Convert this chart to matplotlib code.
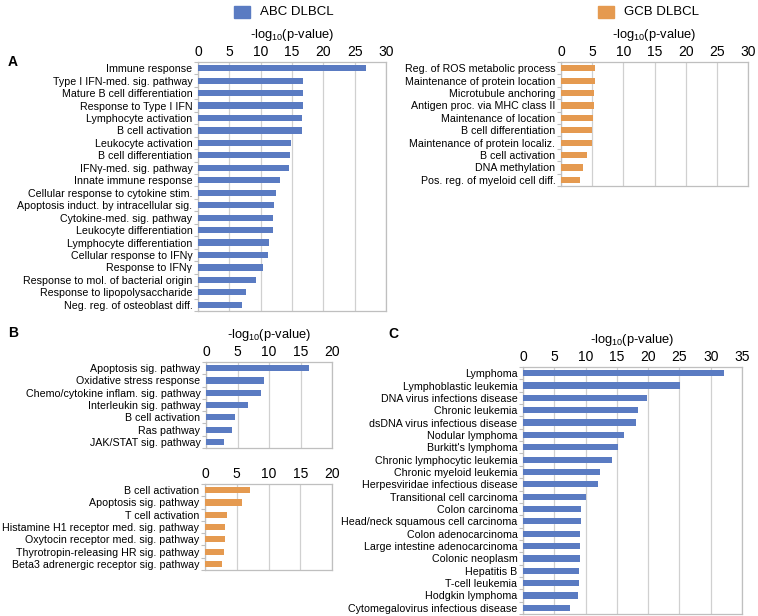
import matplotlib
matplotlib.use('Agg')
import matplotlib.pyplot as plt
from matplotlib.patches import Rectangle
import numpy as np

plt.rcParams['font.family'] = ['Liberation Sans', 'DejaVu Sans']
plt.rcParams['mathtext.fontset'] = 'custom'
plt.rcParams['mathtext.rm'] = 'Liberation Sans'
plt.rcParams['mathtext.it'] = 'Liberation Sans'

# Panel A, ABC DLBCL
a_abc_terms = ['Immune response', 'Type I IFN-med. sig. pathway', 'Mature B cell differentiation',
               'Response to Type I IFN', 'Lymphocyte activation', 'B cell activation',
               'Leukocyte activation', 'B cell differentiation', 'IFNγ-med. sig. pathway',
               'Innate immune response', 'Cellular response to cytokine stim.',
               'Apoptosis induct. by intracellular sig.', 'Cytokine-med. sig. pathway',
               'Leukocyte differentiation', 'Lymphocyte differentiation',
               'Cellular response to IFNγ', 'Response to IFNγ',
               'Response to mol. of bacterial origin', 'Response to lipopolysaccharide',
               'Neg. reg. of osteoblast diff.']
a_abc_vals = [26.8, 16.8, 16.8, 16.7, 16.6, 16.6, 14.9, 14.7, 14.6, 13.1,
              12.4, 12.1, 12.0, 12.0, 11.4, 11.2, 10.3, 9.3, 7.6, 7.0]

# Panel A, GCB DLBCL
a_gcb_terms = ['Reg. of ROS metabolic process', 'Maintenance of protein location',
               'Microtubule anchoring', 'Antigen proc. via MHC class II',
               'Maintenance of location', 'B cell differentiation',
               'Maintenance of protein localiz.', 'B cell activation', 'DNA methylation',
               'Pos. reg. of myeloid cell diff.']
a_gcb_vals = [5.5, 5.4, 5.3, 5.3, 5.1, 5.0, 4.9, 4.2, 3.6, 3.1]

# Panel B
b_abc_terms = ['Apoptosis sig. pathway', 'Oxidative stress response',
               'Chemo/cytokine inflam. sig. pathway', 'Interleukin sig. pathway',
               'B cell activation', 'Ras pathway', 'JAK/STAT sig. pathway']
b_abc_vals = [16.3, 9.2, 8.75, 6.6, 4.6, 4.2, 2.9]

b_gcb_terms = ['B cell activation', 'Apoptosis sig. pathway', 'T cell activation',
               'Histamine H1 receptor med. sig. pathway', 'Oxytocin receptor med. sig. pathway',
               'Thyrotropin-releasing HR sig. pathway', 'Beta3 adrenergic receptor sig. pathway']
b_gcb_vals = [7.1, 5.9, 3.4, 3.2, 3.1, 3.0, 2.7]

# Panel C
c_terms = ['Lymphoma', 'Lymphoblastic leukemia', 'DNA virus infections disease',
           'Chronic leukemia', 'dsDNA virus infectious disease', 'Nodular lymphoma',
           "Burkitt's lymphoma", 'Chronic lymphocytic leukemia', 'Chronic myeloid leukemia',
           'Herpesviridae infectious disease', 'Transitional cell carcinoma',
           'Colon carcinoma', 'Head/neck squamous cell carcinoma', 'Colon adenocarcinoma',
           'Large intestine adenocarcinoma', 'Colonic neoplasm', 'Hepatitis B',
           'T-cell leukemia', 'Hodgkin lymphoma', 'Cytomegalovirus infectious disease']
c_vals = [32.2, 25.1, 19.8, 18.3, 18.0, 16.2, 15.2, 14.3, 12.3, 12.0,
          10.0, 9.2, 9.2, 9.1, 9.1, 9.1, 8.9, 8.9, 8.8, 7.5]

BLUE = '#5A7BC2'
ORANGE = '#E59A50'
W, H = 758, 616
XLABEL = '-log$_{10}$(p-value)'

fig = plt.figure(figsize=(W / 100, H / 100), dpi=100)


def px_axes(x0, y0, x1, y1):
    # pixel box (top-left origin) -> figure axes
    return fig.add_axes([x0 / W, 1 - y1 / H, (x1 - x0) / W, (y1 - y0) / H])


def bar_panel(ax, terms, vals, color, xmax, show_label=True):
    y = np.arange(len(terms))
    ax.barh(y, vals, height=0.5, color=color, zorder=3)
    ax.set_ylim(len(terms) - 0.5, -0.5)
    ax.set_yticks(y)
    ax.set_yticklabels(terms, fontsize=7.7)
    ax.set_yticks(np.arange(len(terms) + 1) - 0.5, minor=True)
    ax.tick_params(axis='y', which='major', length=0, pad=4)
    ax.tick_params(axis='y', which='minor', length=3, color='#BFBFBF', width=0.8)
    ax.set_xlim(0, xmax)
    ax.set_xticks(np.arange(0, xmax + 1, 5))
    ax.xaxis.tick_top()
    ax.tick_params(axis='x', length=0, labelsize=10, pad=2)
    ax.grid(axis='x', color='#D0D0D0', linewidth=0.9, zorder=0)
    for s in ax.spines.values():
        s.set_color('#BFBFBF')
        s.set_linewidth(0.9)
    if show_label:
        ax.xaxis.set_label_position('top')
        ax.set_xlabel(XLABEL, fontsize=9.3, labelpad=5)


ax_a1 = px_axes(198, 62, 386, 311)
bar_panel(ax_a1, a_abc_terms, a_abc_vals, BLUE, 30)

ax_a2 = px_axes(561, 62, 748, 186)
bar_panel(ax_a2, a_gcb_terms, a_gcb_vals, ORANGE, 30)

ax_b1 = px_axes(206, 362, 332, 448)
bar_panel(ax_b1, b_abc_terms, b_abc_vals, BLUE, 20)

ax_b2 = px_axes(205, 484, 332, 570)
bar_panel(ax_b2, b_gcb_terms, b_gcb_vals, ORANGE, 20, show_label=False)

ax_c = px_axes(523, 367, 742, 614)
bar_panel(ax_c, c_terms, c_vals, BLUE, 35)

# legend boxes
for (x, label, color) in [(234, 'ABC DLBCL', BLUE), (598, 'GCB DLBCL', ORANGE)]:
    fig.patches.append(Rectangle((x / W, 1 - 18 / H), 16 / W, 12 / H,
                                 transform=fig.transFigure, color=color))
    fig.text((x + 26) / W, 1 - 12 / H, label, fontsize=9.5, va='center', ha='left')

# panel letters
for (x, y, letter) in [(8, 62, 'A'), (8, 333, 'B'), (388, 334, 'C')]:
    fig.text(x / W, 1 - y / H, letter, fontsize=10, fontweight='bold', va='center', ha='left')

fig.savefig('out.png', dpi=100)
